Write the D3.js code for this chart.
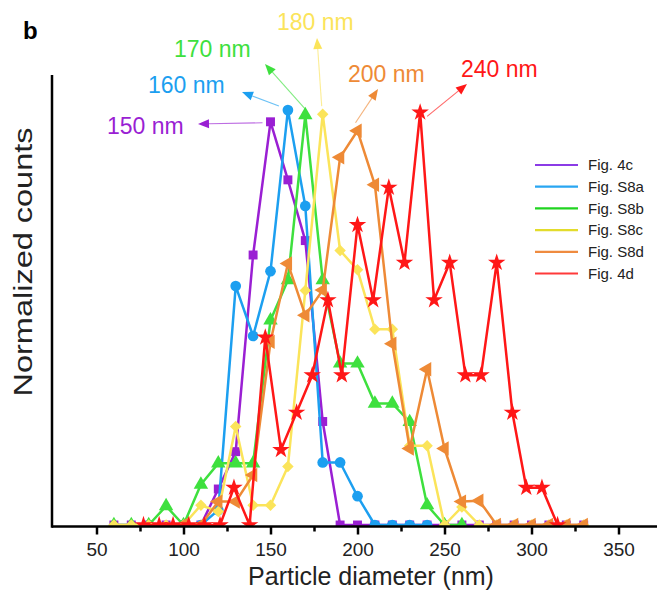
<!DOCTYPE html>
<html>
<head>
<meta charset="utf-8">
<script src="https://cdn.jsdelivr.net/npm/d3@7"></script>
<style>
  body { margin: 0; background: #fff; }
  svg { font-family: Arial, "Liberation Sans", sans-serif; }
</style>
</head>
<body>
<div id="chart"></div>
<script>
///////////////////////////////////////////////////////////////////////////
////////////////////////////// Data ///////////////////////////////////////
///////////////////////////////////////////////////////////////////////////

var seriesNames = ["Fig. 4c", "Fig. S8a", "Fig. S8b", "Fig. S8c", "Fig. S8d", "Fig. 4d"];
var peakLabels = ["150 nm", "160 nm", "170 nm", "180 nm", "200 nm", "240 nm"];

var fig4cX  = [60,70,80,90,100,110,120,130,140,150,160,170,180,190,200,210,220,230,240,250,260,270,280,290,300,310,320,330];
var fig4cY  = [0,0,0,0,0,0,0.08,0.163,0.6,0.896,0.767,0.632,0.23,0,0,0,0,0,0,0,0,0,0,0,0,0,0,0];

var figS8aX = [100,110,120,130,140,150,160,170,180,190,200,210,220,230,240];
var figS8aY = [0,0,0.033,0.531,0.42,0.564,0.922,0.709,0.139,0.139,0.064,0,0,0,0];

var figS8bX = [60,70,80,90,100,110,120,130,140,150,160,170,180,190,200,210,220,230,240,250,260];
var figS8bY = [0,0,0,0.042,0,0.09,0.137,0.137,0.137,0.455,0.544,0.911,0.544,0.359,0.359,0.27,0.27,0.229,0.044,0,0];

var figS8cX = [60,70,80,90,100,110,120,130,140,150,160,170,180,190,200,210,220,230,240,250,260,270,280,290,300,310,320,330];
var figS8cY = [0,0,0,0,0,0.044,0.03,0.219,0.044,0.044,0.13,0.521,0.913,0.61,0.567,0.435,0.435,0.176,0.176,0,0.04,0,0,0,0,0,0,0];

var figS8dX = [100,110,120,130,140,150,160,170,180,190,200,210,220,230,240,250,260,270,280,290,300,310,320,330];
var figS8dY = [0,0,0.052,0.052,0.111,0.407,0.581,0.466,0.522,0.817,0.876,0.756,0.403,0.17,0.346,0.17,0.052,0.054,0,0,0,0,0,0];

var fig4dX  = [77,86,94,103,112,121,129,138,147,156,165,174,183,191,200,209,218,227,236,244,253,262,271,280,289,297,306,315];
var fig4dY  = [0,0,0,0,0,0,0.083,0,0.417,0.167,0.25,0.333,0.5,0.333,0.667,0.5,0.75,0.583,0.917,0.5,0.583,0.333,0.333,0.583,0.25,0.083,0.083,0];

var majorTicks = [50,100,150,200,250,300,350];
var minorTicks = [75,125,175,225,275,325];

///////////////////////////////////////////////////////////////////////////
///////////////////////////// Set-up //////////////////////////////////////
///////////////////////////////////////////////////////////////////////////

var width = 657, height = 592;

var colors = ["#9a1fd3", "#1c9ff0", "#3ee03e", "#fbe45a", "#ee8a36", "#ff1717"];
var legendColors = ["#8b3be6", "#29a6f2", "#20d420", "#e3dc2c", "#ef8b3f", "#ff3a3a"];

var xs = [fig4cX, figS8aX, figS8bX, figS8cX, figS8dX, fig4dX];
var ys = [fig4cY, figS8aY, figS8bY, figS8cY, figS8dY, fig4dY];

var series = seriesNames.map(function(name, i) {
	return { name: name, color: colors[i],
		values: xs[i].map(function(x, j) { return { x: x, y: ys[i][j] }; }) };
});

var x = d3.scaleLinear().domain([25, 375]).range([53, 662]);
var y = d3.scaleLinear().domain([0, 1]).range([525, 75]);

var svg = d3.select("#chart").append("svg")
	.attr("width", width)
	.attr("height", height);

svg.append("clipPath").attr("id", "plotClip")
	.append("rect")
	.attr("x", 53).attr("y", 0)
	.attr("width", 620).attr("height", 526);

//////////////////////////////////////////////////////
//////////////////// Lines & markers /////////////////
//////////////////////////////////////////////////////

var symbols = [
	{ type: d3.symbolSquare,   size: 80,  rot: 0 },
	{ type: d3.symbolCircle,   size: 90,  rot: 0 },
	{ type: d3.symbolTriangle, size: 90,  rot: 0 },
	{ type: d3.symbolSquare,   size: 66,  rot: 45 },
	{ type: d3.symbolTriangle, size: 90,  rot: -90 },
	{ type: d3.symbolStar,     size: 95,  rot: 0 }
];

var line = d3.line().x(function(d) { return x(d.x); }).y(function(d) { return y(d.y); });

var plot = svg.append("g").attr("clip-path", "url(#plotClip)");

series.forEach(function(s, i) {
	var g = plot.append("g").attr("class", "series");
	g.append("path")
		.datum(s.values)
		.attr("d", line)
		.attr("fill", "none")
		.attr("stroke", s.color)
		.attr("stroke-width", 2.5)
		.attr("stroke-linejoin", "round");
	g.selectAll(".marker")
		.data(s.values)
		.enter().append("path")
		.attr("class", "marker")
		.attr("d", d3.symbol().type(symbols[i].type).size(symbols[i].size))
		.attr("transform", function(d) {
			return "translate(" + x(d.x) + "," + y(d.y) + ") rotate(" + symbols[i].rot + ")";
		})
		.attr("fill", s.color);
});

//////////////////////////////////////////////////////
/////////////////////// Axes /////////////////////////
//////////////////////////////////////////////////////

var axisY = 526.5;

var xAxisG = svg.append("g").attr("transform", "translate(0," + axisY + ")");
xAxisG.call(d3.axisBottom(x).tickValues(majorTicks).tickSize(8).tickPadding(8.5).tickFormat(d3.format("d")));
xAxisG.select(".domain").remove();
xAxisG.selectAll(".tick line").attr("stroke", "#000").attr("stroke-width", 2.5);
xAxisG.selectAll(".tick text")
	.style("font-size", "19px")
	.style("font-family", "Arial, 'Liberation Sans', sans-serif")
	.attr("fill", "#222");

var minorG = svg.append("g").attr("transform", "translate(0," + axisY + ")");
minorG.call(d3.axisBottom(x).tickValues(minorTicks).tickSize(5).tickFormat(""));
minorG.select(".domain").remove();
minorG.selectAll(".tick line").attr("stroke", "#000").attr("stroke-width", 2.5);

//Axis lines
svg.append("line")
	.attr("x1", 52).attr("x2", width)
	.attr("y1", axisY).attr("y2", axisY)
	.attr("stroke", "#000").attr("stroke-width", 2.5);
svg.append("line")
	.attr("x1", 52).attr("x2", 52)
	.attr("y1", y(1)).attr("y2", axisY + 1.25)
	.attr("stroke", "#000").attr("stroke-width", 2.5);

//Axis titles
svg.append("text")
	.attr("x", 371)
	.attr("y", 585)
	.style("text-anchor", "middle")
	.style("font-size", "25px")
	.attr("fill", "#222")
	.text("Particle diameter (nm)");

svg.append("text")
	.attr("transform", "translate(32,262) rotate(-90)")
	.style("text-anchor", "middle")
	.style("font-size", "25px")
	.attr("textLength", 269)
	.attr("lengthAdjust", "spacingAndGlyphs")
	.attr("fill", "#222")
	.text("Normalized counts");

//Panel letter
svg.append("text")
	.attr("x", 23)
	.attr("y", 39)
	.style("font-size", "24px")
	.style("font-weight", "bold")
	.attr("fill", "#000")
	.text("b");

//////////////////////////////////////////////////////
////////////////// Peak annotations //////////////////
//////////////////////////////////////////////////////

//label position (left, baseline), arrow start offset from peak, arrow tip
var annotations = [
	{ peak: 9,  lx: 107, ly: 134, start: [-8, 1],  tip: [198, 124] },
	{ peak: 6,  lx: 148, ly: 93,  start: [-9, -4], tip: [242, 92] },
	{ peak: 11, lx: 174, ly: 57,  start: [0, -6],  tip: [265, 64] },
	{ peak: 12, lx: 277, ly: 30,  start: [-1, -8], tip: [317, 38] },
	{ peak: 10, lx: 348, ly: 82,  start: [-2, -8], tip: [378, 89] },
	{ peak: 18, lx: 461, ly: 77,  start: [7, 4],   tip: [467, 84] }
];

var annG = svg.append("g").attr("class", "annotations");

annotations.forEach(function(a, i) {
	var p = series[i].values[a.peak];
	var x0 = x(p.x) + a.start[0], y0 = y(p.y) + a.start[1];
	var x1 = a.tip[0], y1 = a.tip[1];
	var ang = Math.atan2(y1 - y0, x1 - x0);
	var len = 11, half = 4.5;
	var bx = x1 - len * Math.cos(ang), by = y1 - len * Math.sin(ang);

	annG.append("line")
		.attr("x1", x0).attr("y1", y0)
		.attr("x2", bx).attr("y2", by)
		.attr("stroke", series[i].color)
		.attr("stroke-opacity", 0.65)
		.attr("stroke-width", 1.1);
	annG.append("polygon")
		.attr("points", [
			[x1, y1],
			[bx + half * Math.sin(ang), by - half * Math.cos(ang)],
			[bx - half * Math.sin(ang), by + half * Math.cos(ang)]
		].map(function(q) { return q.join(","); }).join(" "))
		.attr("fill", series[i].color);
	annG.append("text")
		.attr("x", a.lx)
		.attr("y", a.ly)
		.style("font-size", "23px")
		.attr("fill", series[i].color)
		.text(peakLabels[i]);
});

//////////////////////////////////////////////////////
////////////////////// Legend ////////////////////////
//////////////////////////////////////////////////////

var legend = svg.append("g").attr("class", "legend");
var legendRow = d3.scaleLinear().domain([0, 5]).range([165, 273.5]);

seriesNames.forEach(function(name, i) {
	legend.append("line")
		.attr("x1", 535).attr("x2", 578)
		.attr("y1", legendRow(i)).attr("y2", legendRow(i))
		.attr("stroke", legendColors[i])
		.attr("stroke-width", 2.2);
	legend.append("text")
		.attr("x", 588)
		.attr("y", legendRow(i))
		.attr("dy", "0.35em")
		.style("font-size", "15px")
		.attr("fill", "#222")
		.text(name);
});
</script>
</body>
</html>
